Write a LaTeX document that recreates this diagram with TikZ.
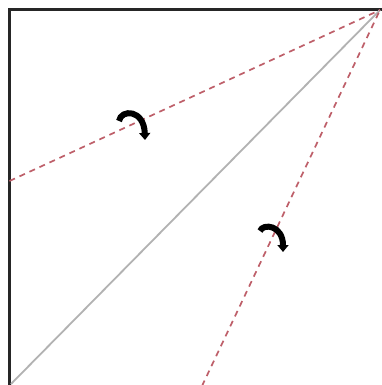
\documentclass[tikz,border=0pt]{standalone}
\usetikzlibrary{arrows.meta}
\definecolor{dashred}{RGB}{190,95,105}
\tikzset{
  frame/.style={line width=2.2pt, draw=black!85},
  diag/.style={line width=1.8pt, draw=black!30},
  fold/.style={line width=1.7pt, draw=dashred, dash pattern=on 6pt off 5pt},
  turn/.style={line width=6pt, draw=black, -{Triangle[width=11pt,length=7pt]}}
}
\begin{document}
\begin{tikzpicture}[x=1pt,y=-1pt]
\useasboundingbox (0,0) rectangle (382,385);
\fill[white] (0,0) rectangle (382,385);
\coordinate (apex) at (380,10);
\coordinate (tl) at (9.5,9.5);
\coordinate (bl) at (9.5,386);
\coordinate (tr) at (383,9.5);
\coordinate (dl) at (11,384);
\coordinate (f1) at (9.5,181);
\coordinate (f2) at (202,386);
\draw[frame] (bl) -- (tl) -- (tr);
\draw[diag] (dl) -- (apex);
\draw[fold] (f1) -- (apex);
\draw[fold] (f2) -- (apex);
\draw[turn] (119,121) .. controls (121,109) and (144,109) .. (145,140);
\draw[turn] (260,231) .. controls (263,223) and (283,225) .. (283,252);
\end{tikzpicture}
\end{document}
